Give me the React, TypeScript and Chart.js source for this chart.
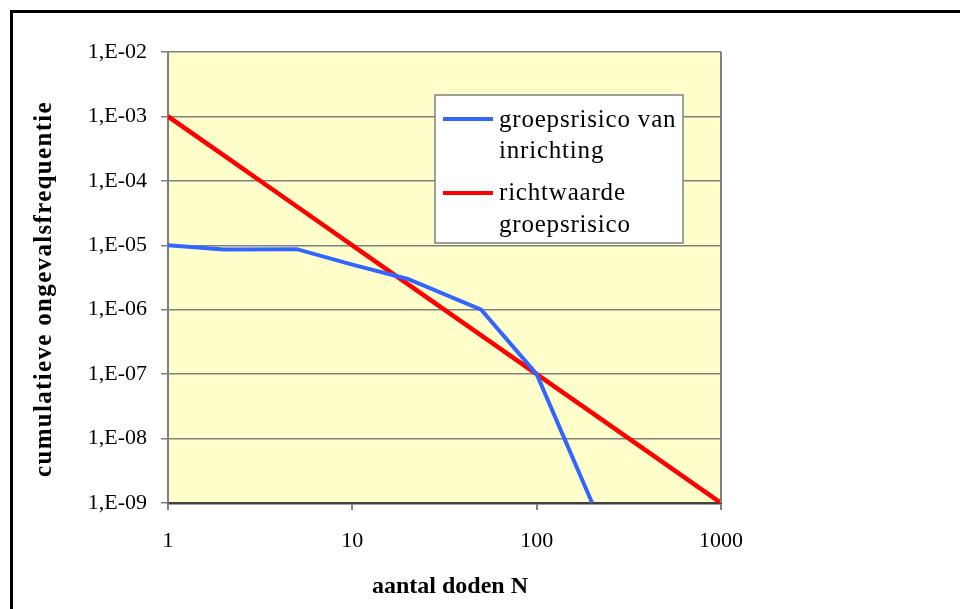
import React, { useEffect, useRef } from "react";
import { Chart, registerables } from "chart.js";

Chart.register(...registerables);

// ---- data ----
const blueN = [1, 2, 5, 10, 20, 50, 100, 200];
const blueF = [1e-5, 8.6e-6, 8.7e-6, 5e-6, 3e-6, 1e-6, 1e-7, 1e-9];
const redN = [1, 2, 5, 10, 20, 50, 100, 200, 500, 1000];
const redF = [1e-3, 2.5e-4, 4e-5, 1e-5, 2.5e-6, 4e-7, 1e-7, 2.5e-8, 4e-9, 1e-9];

const seriesNames = ["groepsrisico van inrichting", "richtwaarde groepsrisico"];
const legendLines = [["groepsrisico van", "inrichting"], ["richtwaarde", "groepsrisico"]];
const xTickValues = [1, 10, 100, 1000];
const xTickLabels = ["1", "10", "100", "1000"];
const yTickValues = [1e-9, 1e-8, 1e-7, 1e-6, 1e-5, 1e-4, 1e-3, 1e-2];
const yTickLabels = ["1,E-09", "1,E-08", "1,E-07", "1,E-06", "1,E-05", "1,E-04", "1,E-03", "1,E-02"];
const xTitle = "aantal doden N";
const yTitle = "cumulatieve ongevalsfrequentie";

const SERIF = '"Liberation Serif", "Times New Roman", serif';
const BLUE = "#3366FF";
const RED = "#FF0000";

const decorPlugin = {
  id: "decor",
  beforeDraw(chart: any) {
    const { ctx, chartArea } = chart;
    ctx.save();
    ctx.fillStyle = "#FFFFCC";
    ctx.fillRect(chartArea.left, chartArea.top, chartArea.right - chartArea.left, chartArea.bottom - chartArea.top);
    ctx.restore();
  },
  afterDraw(chart: any) {
    const { ctx, chartArea } = chart;
    ctx.save();
    // right border of plot
    ctx.strokeStyle = "#808080";
    ctx.lineWidth = 2;
    ctx.beginPath();
    ctx.moveTo(chartArea.right, chartArea.top);
    ctx.lineTo(chartArea.right, chartArea.bottom);
    ctx.stroke();

    // outer frame
    ctx.strokeStyle = "#000000";
    ctx.lineWidth = 3;
    ctx.strokeRect(11.5, 11.5, 2000, 2000);

    // legend box
    ctx.fillStyle = "#FFFFFF";
    ctx.fillRect(435, 95, 248, 148);
    ctx.strokeStyle = "#808080";
    ctx.lineWidth = 1.5;
    ctx.strokeRect(435, 95, 248, 148);

    const colors = [BLUE, RED];
    const lineYs = [119, 193];
    const baselines = [[127, 158], [200, 232]];
    ctx.font = `25px ${SERIF}`;
    ctx.textBaseline = "alphabetic";
    ctx.textAlign = "left";
    (ctx as any).letterSpacing = "0.8px";
    for (let i = 0; i < 2; i++) {
      ctx.strokeStyle = colors[i];
      ctx.lineWidth = 4;
      ctx.beginPath();
      ctx.moveTo(443, lineYs[i]);
      ctx.lineTo(493, lineYs[i]);
      ctx.stroke();
      ctx.fillStyle = "#000000";
      legendLines[i].forEach((t, j) => ctx.fillText(t, 499, baselines[i][j]));
    }

    // axis titles
    ctx.font = `bold 24px ${SERIF}`;
    (ctx as any).letterSpacing = "0px";
    ctx.textAlign = "center";
    ctx.textBaseline = "alphabetic";
    ctx.fillStyle = "#000000";
    ctx.fillText(xTitle, 450, 593);

    ctx.translate(51, 289);
    ctx.rotate(-Math.PI / 2);
    ctx.font = `bold 25px ${SERIF}`;
    const w = ctx.measureText(yTitle).width;
    const target = 376;
    (ctx as any).letterSpacing = `${Math.max(0, (target - w) / yTitle.length)}px`;
    ctx.fillText(yTitle, 0, 0);
    ctx.restore();
  },
};

export default function App() {
  const ref = useRef<HTMLCanvasElement>(null);
  useEffect(() => {
    const canvas = ref.current!;
    const chart = new Chart(canvas, {
      type: "line",
      data: {
        datasets: [
          {
            label: seriesNames[0],
            data: blueN.map((n, i) => ({ x: n, y: blueF[i] })),
            borderColor: BLUE,
            borderWidth: 4,
            pointRadius: 0,
            tension: 0,
            fill: false,
          },
          {
            label: seriesNames[1],
            data: redN.map((n, i) => ({ x: n, y: redF[i] })),
            borderColor: RED,
            borderWidth: 4.5,
            pointRadius: 0,
            tension: 0,
            fill: false,
          },
        ],
      },
      options: {
        responsive: false,
        animation: false,
        events: [],
        layout: { padding: { left: 0, top: 52, right: 239, bottom: 0 } },
        plugins: { legend: { display: false }, tooltip: { enabled: false }, title: { display: false } },
        scales: {
          x: {
            type: "logarithmic",
            min: 1,
            max: 1000,
            afterBuildTicks: (s: any) => {
              s.ticks = xTickValues.map((v) => ({ value: v }));
            },
            afterFit: (s: any) => {
              s.height = 106;
            },
            ticks: {
              autoSkip: false,
              maxRotation: 0,
              padding: 18,
              color: "#000000",
              font: { family: SERIF, size: 22 },
              callback: (v: any) => {
                const i = xTickValues.findIndex((t) => Math.abs(t - Number(v)) < 1e-9 * Math.max(1, t));
                return i >= 0 ? xTickLabels[i] : "";
              },
            },
            grid: { drawOnChartArea: false, drawTicks: true, tickLength: 7, color: "#808080", lineWidth: 2 },
            border: { display: true, color: "#404040", width: 2.5 },
          },
          y: {
            type: "logarithmic",
            min: 1e-9,
            max: 1e-2,
            afterBuildTicks: (s: any) => {
              s.ticks = yTickValues.map((v) => ({ value: v }));
            },
            afterFit: (s: any) => {
              s.width = 168;
            },
            ticks: {
              autoSkip: false,
              padding: 14,
              color: "#000000",
              font: { family: SERIF, size: 22 },
              callback: (v: any) => {
                const i = yTickValues.findIndex((t) => Math.abs(Math.log10(t) - Math.log10(Number(v))) < 1e-6);
                return i >= 0 ? yTickLabels[i] : "";
              },
            },
            grid: { drawOnChartArea: true, drawTicks: true, tickLength: 7, color: "#808080", lineWidth: 1.5 },
            border: { display: true, color: "#808080", width: 2 },
          },
        },
      },
      plugins: [decorPlugin],
    } as any);
    return () => chart.destroy();
  }, []);
  return (
    <div style={{ position: "fixed", left: 0, top: 0, width: 960, height: 609, background: "#FFFFFF" }}>
      <canvas ref={ref} width={960} height={609} style={{ display: "block", width: 960, height: 609 }} />
    </div>
  );
}
